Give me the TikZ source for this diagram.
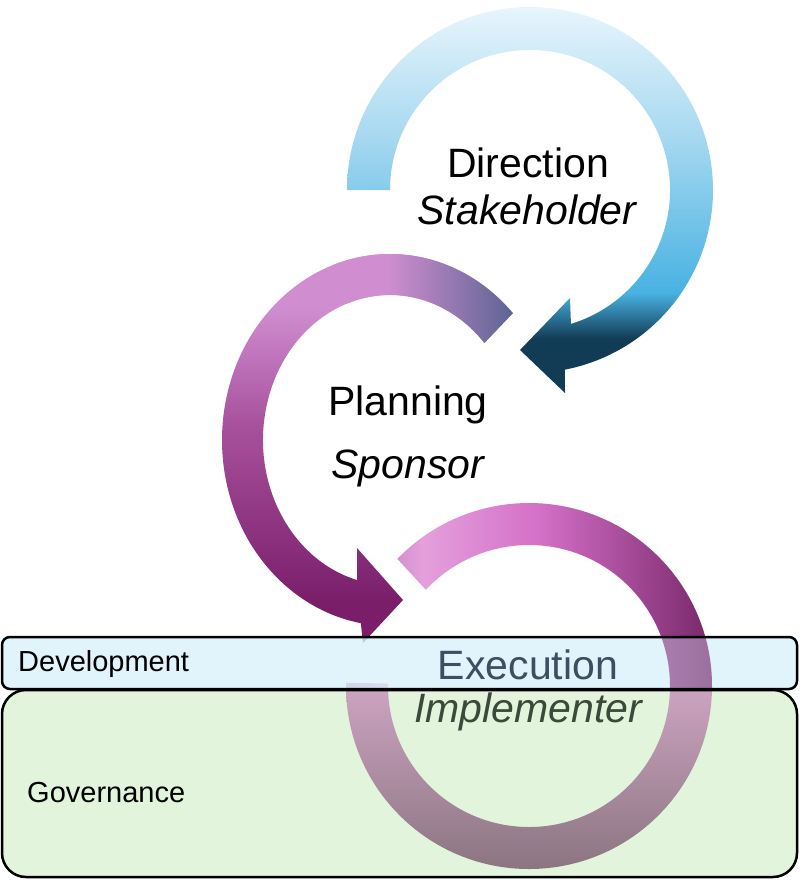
\documentclass[tikz,border=0pt]{standalone}
\usepackage{fontspec}
\setmainfont{Liberation Sans}
\usetikzlibrary{calc}
\definecolor{navyc}{HTML}{123B55}
\definecolor{bluec}{HTML}{48B2E2}
\definecolor{midbluec}{HTML}{A6D8F0}
\definecolor{lightbluec}{HTML}{E8F5FC}
\definecolor{pa}{HTML}{7A1E6A}
\definecolor{pb}{HTML}{A8529E}
\definecolor{pc}{HTML}{D08ED0}
\definecolor{pd}{HTML}{5E6494}
\definecolor{ra}{HTML}{B070A8}
\definecolor{rb}{HTML}{E4A0DC}
\definecolor{rc}{HTML}{D470C8}
\definecolor{rd}{HTML}{6E2060}
\definecolor{la}{HTML}{C890BC}
\definecolor{lb}{HTML}{76566A}
\definecolor{devc}{HTML}{D9F0FA}
\definecolor{govc}{HTML}{E2F4DC}
\definecolor{exc}{HTML}{3A5060}
\definecolor{imc}{HTML}{3A4A3A}
\pgfdeclareverticalshading{bluesh}{100bp}{color(0bp)=(navyc); color(32bp)=(navyc); color(38bp)=(bluec); color(58bp)=(midbluec); color(75bp)=(lightbluec); color(100bp)=(lightbluec)}
\pgfdeclareverticalshading{plansh}{100bp}{color(0bp)=(pa); color(30bp)=(pa); color(52bp)=(pb); color(66bp)=(pc); color(100bp)=(pc)}
\pgfdeclarehorizontalshading{slatesh}{100bp}{color(0bp)=(pc); color(40bp)=(pc); color(75bp)=(pd); color(100bp)=(pd)}
\pgfdeclarehorizontalshading{ringsh}{100bp}{color(0bp)=(ra); color(25bp)=(ra); color(35bp)=(rb); color(50bp)=(rc); color(75bp)=(rd); color(100bp)=(rd)}
\pgfdeclareverticalshading{lowsh}{100bp}{color(0bp)=(lb); color(25bp)=(lb); color(75bp)=(la); color(100bp)=(la)}
\tikzset{
  lbl/.style={inner sep=0pt},
  bigt/.style={lbl,font=\fontsize{41}{44}\selectfont},
  smallt/.style={lbl,anchor=west,font=\fontsize{29}{32}\selectfont},
  bandline/.style={draw=black,line width=2.5pt}
}
\begin{document}
\begin{tikzpicture}[x=1pt,y=-1pt]
\useasboundingbox (0,0) rectangle (800,880);
% top arrow (Direction)
\coordinate (c1) at (530,190);
\path[shading=bluesh] ($(c1)+(180:183)$) arc[start angle=180,end angle=439,radius=183]
  -- (565,393) -- (520,350) -- (570,298) -- ($(c1)+(433:140)$)
  arc[start angle=433,end angle=180,radius=140] -- cycle;
% planning arrow
\coordinate (c2) at (390,440);
\path[shading=plansh] ($(c2)+({168*cos(-43)},{186*sin(-43)})$)
  arc[start angle=-43,end angle=-260,x radius=168,y radius=186]
  -- (363,643) -- (403,600) -- (357,548) -- ($(c2)+({127*cos(-255)},{145*sin(-255)})$)
  arc[start angle=-255,end angle=-42,x radius=127,y radius=145] -- cycle;
\path[shading=slatesh] ($(c2)+({168*cos(-43)},{186*sin(-43)})$)
  arc[start angle=-43,end angle=-110,x radius=168,y radius=186]
  -- ($(c2)+({127*cos(-110)},{145*sin(-110)})$)
  arc[start angle=-110,end angle=-42,x radius=127,y radius=145] -- cycle;
% execution ring
\coordinate (c3) at (529,686);
\path[shading=ringsh] ($(c3)+(224:183)$) arc[start angle=224,end angle=541,radius=183]
  -- ($(c3)+(541:141)$) arc[start angle=541,end angle=223,radius=141] -- cycle;
% band fills
\fill[govc,rounded corners=24pt] (2,690) rectangle (797,877);
\fill[devc,fill opacity=0.8,rounded corners=8pt] (2,637) rectangle (797,689);
% ring seen through bands
\begin{scope}
  \clip (600,637) rectangle (800,690);
  \path[shading=ringsh,fill opacity=0.55] ($(c3)+(224:183)$) arc[start angle=224,end angle=541,radius=183]
    -- ($(c3)+(541:141)$) arc[start angle=541,end angle=223,radius=141] -- cycle;
\end{scope}
\begin{scope}
  \clip (0,689) rectangle (800,880);
  \path[shading=lowsh,fill opacity=0.8] ($(c3)+(0:183)$) arc[start angle=0,end angle=180,radius=183]
    -- ($(c3)+(180:141)$) arc[start angle=180,end angle=0,radius=141] -- cycle;
\end{scope}
% band outlines
\draw[bandline,rounded corners=24pt] (2,690) rectangle (797,877);
\draw[bandline,rounded corners=8pt] (2,637) rectangle (797,689);
% labels
\node[bigt] (dir) at (528,163) {Direction};
\node[bigt] (stk) at (527,210) {\itshape Stakeholder};
\node[bigt] (pln) at (408,405) {Planning};
\node[bigt] (spn) at (408,468) {\itshape Sponsor};
\node[bigt,text=exc] (exe) at (528,665) {Execution};
\node[bigt,text=imc] (imp) at (528,712) {\itshape Implementer};
\node[smallt] (dev) at (18,664) {Development};
\node[smallt] (gov) at (27,793) {Governance};
\end{tikzpicture}
\end{document}
